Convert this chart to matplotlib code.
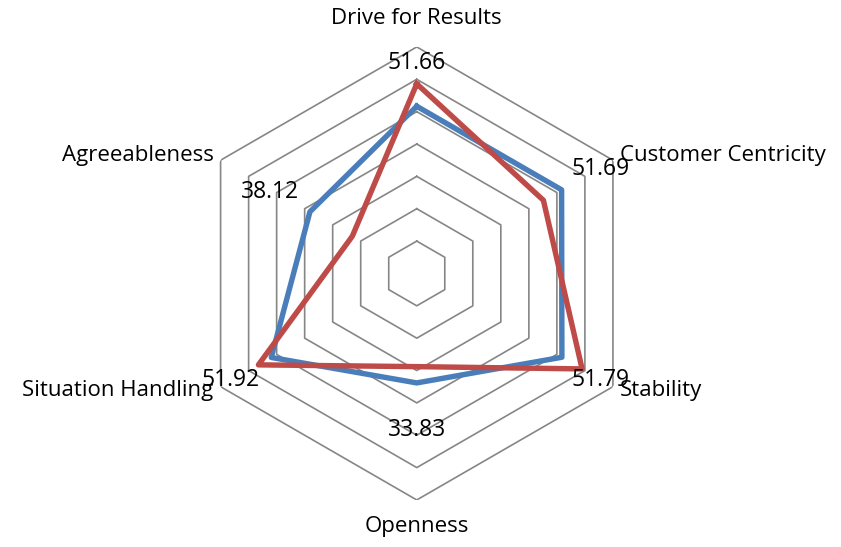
import numpy as np
import matplotlib
matplotlib.use("Agg")
import matplotlib.pyplot as plt

plt.rcParams['font.family'] = ['Open Sans', 'DejaVu Sans']

categories = ["Drive for Results", "Customer Centricity", "Stability",
              "Openness", "Situation Handling", "Agreeableness"]
blue_vals = [51.66, 51.69, 51.79, 33.83, 51.92, 38.12]
red_vals = [58.6, 45.2, 59.0, 28.8, 56.5, 23.0]
rings = [10, 20, 30, 40, 50, 60, 70]

n = len(categories)
angles = np.arange(n) * 2 * np.pi / n
closed = np.append(angles, angles[0])

fig = plt.figure(figsize=(8.41, 5.47), dpi=100)
ax = fig.add_axes([0.2262, 0.0860, 0.5387, 0.8282], projection='polar')
ax.set_theta_zero_location('N')
ax.set_theta_direction(-1)
ax.set_ylim(0, 70)
ax.set_xticks([])
ax.set_yticks([])
ax.grid(False)
ax.spines['polar'].set_visible(False)

# hexagon gridlines
for r in rings:
    ax.plot(closed, [r] * (n + 1), color='#868686', lw=1.2, zorder=1)

ax.plot(closed, blue_vals + blue_vals[:1], color='#4A7EBB', lw=3.9, zorder=3)
ax.plot(closed, red_vals + red_vals[:1], color='#BE4B48', lw=3.9, zorder=4)

# data labels of the blue series
label_offsets = [(0, 43), (39, 21), (39, -23), (0, -47), (-41, -23), (-40, 20)]
for a, v, off in zip(angles, blue_vals, label_offsets):
    ax.annotate(f"{v:.2f}", (a, v), xytext=off, textcoords='offset pixels',
                ha='center', va='center', fontsize=16.5, zorder=5)

# category labels
cat_pos = [((0, 28), 'center'), ((7, 5), 'left'), ((7, -4), 'left'),
           ((0, -27), 'center'), ((-7, -4), 'right'), ((-7, 5), 'right')]
for a, c, (off, ha) in zip(angles, categories, cat_pos):
    ax.annotate(c, (a, rings[-1]), xytext=off, textcoords='offset pixels',
                ha=ha, va='center', fontsize=16, annotation_clip=False)

fig.savefig("out.png", dpi=100)
